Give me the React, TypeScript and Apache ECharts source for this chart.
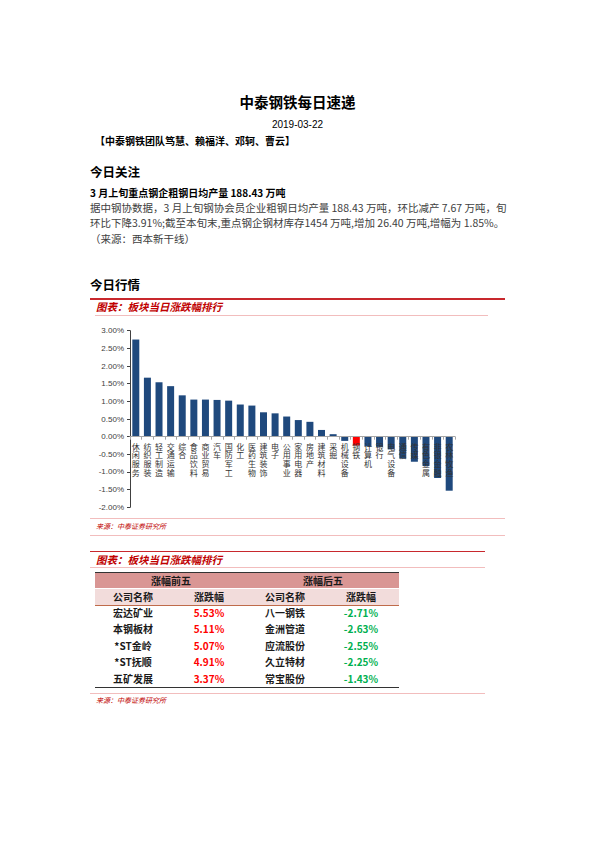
import React, { useEffect, useRef } from 'react';
import * as echarts from 'echarts';

const categories = ['休闲服务','纺织服装','轻工制造','交通运输','综合','食品饮料','商业贸易','汽车','国防军工','化工','医药生物','建筑装饰','电子','公用事业','家用电器','房地产','建筑材料','采掘','机械设备','钢铁','计算机','银行','电气设备','通信','传媒','有色金属','非银金融','农林牧渔'];
const changes = [2.75,1.67,1.54,1.43,1.17,1.05,1.05,1.04,1.02,0.91,0.88,0.69,0.66,0.57,0.47,0.42,0.19,0.07,-0.12,-0.25,-0.27,-0.29,-0.36,-0.62,-0.71,-0.83,-1.17,-1.53];
const highlightCategory = '钢铁';
const yMin = -2;
const yMax = 3;
const yStep = 0.5;

const topNames = ['宏达矿业','本钢板材','*ST金岭','*ST抚顺','五矿发展'];
const topChanges = ['5.53%','5.11%','5.07%','4.91%','3.37%'];
const bottomNames = ['八一钢铁','金洲管道','应流股份','久立特材','常宝股份'];
const bottomChanges = ['-2.71%','-2.63%','-2.55%','-2.25%','-1.43%'];

const bodyLines = [
  '据中钢协数据，3 月上旬钢协会员企业粗钢日均产量 188.43 万吨，环比减产 7.67 万吨，旬',
  '环比下降3.91%;截至本旬末,重点钢企钢材库存1454 万吨,增加 26.40 万吨,增幅为 1.85%。',
  '（来源：西本新干线）',
];

const FONT = '"Noto Sans CJK SC", "Noto Sans", sans-serif';

type TProps = { x: number; y: number; size: number; children: React.ReactNode; style?: React.CSSProperties; center?: boolean; width?: number };
function T({ x, y, size, children, style, center, width }: TProps) {
  const h = size * 1.4;
  const w = width ?? 400;
  return (
    <div
      style={{
        position: 'absolute',
        left: center ? x - w / 2 : x,
        top: y - h / 2,
        height: h,
        lineHeight: h + 'px',
        fontSize: size,
        whiteSpace: 'nowrap',
        width: center ? w : undefined,
        textAlign: center ? 'center' : 'left',
        fontFamily: FONT,
        color: '#000',
        ...style,
      }}
    >
      {children}
    </div>
  );
}

function Line({ x, y, w, h, color }: { x: number; y: number; w: number; h: number; color: string }) {
  return <div style={{ position: 'absolute', left: x, top: y, width: w, height: h, background: color }} />;
}

const GRID_TOP = 10.7;
const GRID_BOTTOM = 12.7;
const CHART_H = 200;

function Chart() {
  const ref = useRef<HTMLDivElement>(null);
  useEffect(() => {
    if (!ref.current) return;
    const chart = echarts.init(ref.current, null, { renderer: 'svg' });
    const gridH = CHART_H - GRID_TOP - GRID_BOTTOM;
    const zeroOffset = -((0 - yMin) / (yMax - yMin)) * gridH;
    chart.setOption({
      animation: false,
      grid: { left: 50, right: 55, top: GRID_TOP, bottom: GRID_BOTTOM, outerBoundsMode: 'none', containLabel: false },
      xAxis: {
        type: 'category',
        data: categories,
        z: 10,
        position: 'bottom',
        offset: zeroOffset,
        axisLine: { onZero: false, lineStyle: { color: '#a6a6a6', width: 1 } },
        axisTick: { show: true, length: 3, lineStyle: { color: '#a6a6a6' } },
        axisLabel: {
          interval: 0,
          hideOverlap: false,
          formatter: (v: string) => v.split('').join('\n'),
          fontSize: 8,
          lineHeight: 8.8,
          color: '#333',
          margin: 5,
          fontFamily: FONT,
        },
      },
      yAxis: {
        type: 'value',
        min: yMin,
        max: yMax,
        interval: yStep,
        axisLine: { show: true, lineStyle: { color: '#404040' } },
        axisTick: { show: true, length: 3, lineStyle: { color: '#404040' } },
        splitLine: { show: false },
        axisLabel: {
          formatter: (v: number) => v.toFixed(2) + '%',
          fontSize: 8,
          color: '#404040',
          margin: 6,
          fontFamily: '"Liberation Sans", Arial, sans-serif',
        },
      },
      series: [
        {
          type: 'bar',
          barWidth: 7,
          data: changes.map((v, i) => ({
            value: v,
            itemStyle: { color: categories[i] === highlightCategory ? '#FF0000' : '#1F497D' },
          })),
        },
      ],
    });
    return () => chart.dispose();
  }, []);
  return <div ref={ref} style={{ position: 'absolute', left: 80, top: 320, width: 430, height: CHART_H }} />;
}

const RED = '#C8282D';
const PINK = '#F2BDBD';
const TEXT_RED = '#C00000';
const colCenters = [133, 209, 285, 361];
const rowCenters = [613, 629.4, 645.8, 662.2, 678.6];

export default function App() {
  return (
    <div style={{ position: 'absolute', left: 0, top: 0, width: 595, height: 842, background: '#fff', overflow: 'hidden', fontFamily: FONT }}>
      <T x={297.5} y={102} size={14.5} center style={{ fontWeight: 700 }}>中泰钢铁每日速递</T>
      <T x={297.5} y={125} size={10} center style={{ fontFamily: '"Liberation Sans", Arial, sans-serif' }}>2019-03-22</T>
      <T x={95} y={141} size={10} style={{ fontWeight: 700 }}>【中泰钢铁团队笃慧、赖福洋、邓轲、曹云】</T>
      <T x={90} y={171.5} size={12.5} style={{ fontWeight: 700 }}>今日关注</T>
      <T x={90} y={192.7} size={10} style={{ fontWeight: 700 }}>3 月上旬重点钢企粗钢日均产量 188.43 万吨</T>
      {bodyLines.map((l, i) => (
        <T key={i} x={90} y={208 + i * 15.6} size={10.5} style={{ color: '#404040' }}>{l}</T>
      ))}
      <T x={90} y={285} size={12.5} style={{ fontWeight: 700 }}>今日行情</T>

      <Line x={90} y={298} w={415} h={1.6} color={RED} />
      <T x={96} y={307} size={10.5} style={{ color: TEXT_RED, fontStyle: 'italic', fontWeight: 700 }}>图表：板块当日涨跌幅排行</T>
      <Line x={95} y={315} w={393} h={1} color={PINK} />
      <Chart />
      <Line x={90} y={518} w={415} h={1} color={PINK} />
      <T x={96} y={526.7} size={7} style={{ color: TEXT_RED, fontStyle: 'italic' }}>来源：中泰证券研究所</T>
      <Line x={90} y={534.5} w={415} h={1} color={PINK} />

      <Line x={90} y={550.5} w={395} h={1.8} color={RED} />
      <T x={96} y={560} size={10.5} style={{ color: TEXT_RED, fontStyle: 'italic', fontWeight: 700 }}>图表：板块当日涨跌幅排行</T>
      <Line x={90} y={566.5} w={395} h={1} color={PINK} />

      <Line x={95} y={572} w={304} h={1.2} color={'#333'} />
      <Line x={95} y={573.2} w={304} h={15.3} color={'#D99694'} />
      <Line x={95} y={588.5} w={304} h={16} color={'#F2DCDB'} />
      <Line x={95} y={604.5} w={304} h={1.3} color={'#BF6B4A'} />
      <Line x={95} y={686.5} w={304} h={1.2} color={'#333'} />

      <T x={171} y={580.5} size={10} center width={150} style={{ fontWeight: 700, color: '#1a1a1a' }}>涨幅前五</T>
      <T x={323} y={580.5} size={10} center width={150} style={{ fontWeight: 700, color: '#1a1a1a' }}>涨幅后五</T>
      {['公司名称', '涨跌幅', '公司名称', '涨跌幅'].map((h, i) => (
        <T key={'h' + i} x={colCenters[i]} y={596.5} size={10} center width={76} style={{ fontWeight: 700, color: '#1a1a1a' }}>{h}</T>
      ))}
      {topNames.map((n, i) => (
        <React.Fragment key={'r' + i}>
          <T x={colCenters[0]} y={rowCenters[i]} size={10} center width={76} style={{ fontWeight: 700, color: '#1a1a1a' }}>{n}</T>
          <T x={colCenters[1]} y={rowCenters[i]} size={10} center width={76} style={{ fontWeight: 700, color: '#FF0000' }}>{topChanges[i]}</T>
          <T x={colCenters[2]} y={rowCenters[i]} size={10} center width={76} style={{ fontWeight: 700, color: '#1a1a1a' }}>{bottomNames[i]}</T>
          <T x={colCenters[3]} y={rowCenters[i]} size={10} center width={76} style={{ fontWeight: 700, color: '#00B050' }}>{bottomChanges[i]}</T>
        </React.Fragment>
      ))}

      <Line x={90} y={693} w={395} h={1} color={PINK} />
      <T x={96} y={701} size={7} style={{ color: TEXT_RED, fontStyle: 'italic' }}>来源：中泰证券研究所</T>
    </div>
  );
}
